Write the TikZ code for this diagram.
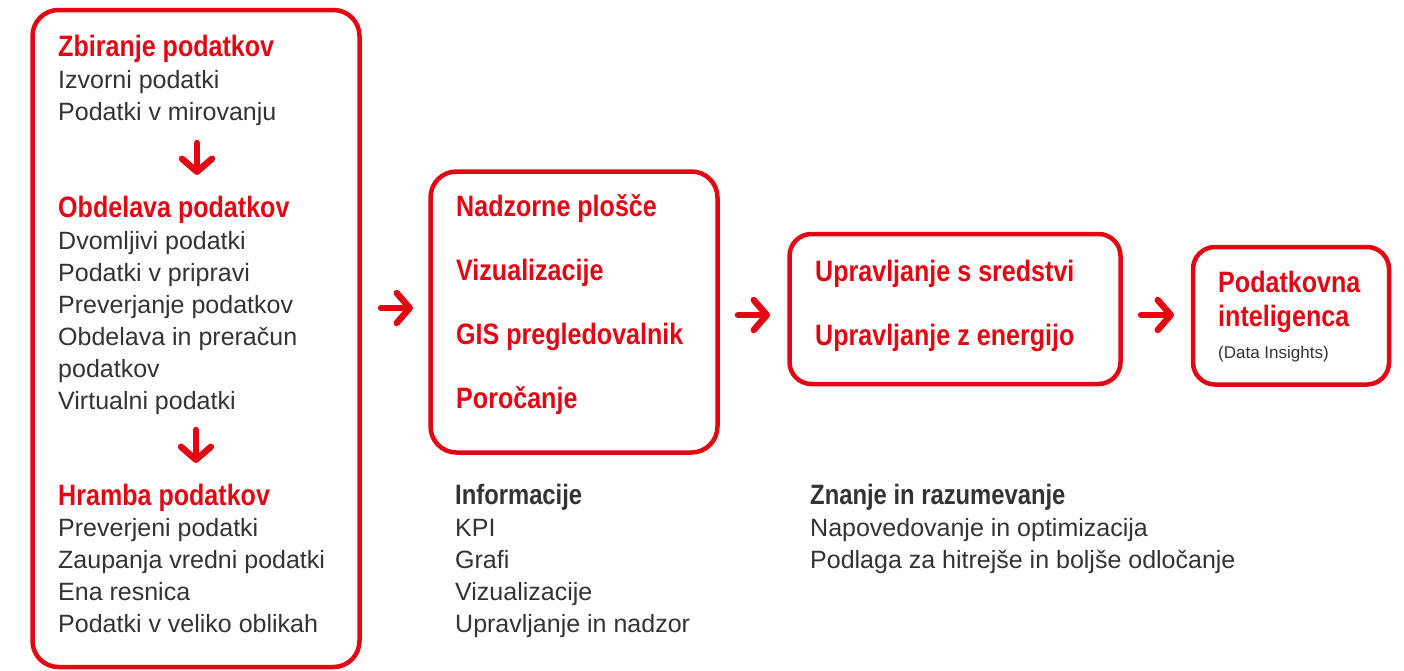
\documentclass[tikz,border=0pt]{standalone}
\usepackage{fontspec}
\setmainfont{Liberation Sans}
\newfontfamily\condfont[FakeStretch=0.85]{Liberation Sans}
\usetikzlibrary{arrows.meta}
\definecolor{brand}{HTML}{E30613}
\definecolor{txt}{HTML}{333333}
\begin{document}
\begin{tikzpicture}[x=1pt,y=-1pt,
 box/.style={draw=brand, line width=4.5pt, rounded corners=26pt, inner sep=0, outer sep=0},
 hd/.style={anchor=base west, inner sep=0, text=brand, font=\condfont\fontsize{29.5}{32}\selectfont\bfseries},
 tx/.style={anchor=base west, inner sep=0, text=txt, font=\fontsize{25}{30}\selectfont},
 sm/.style={anchor=base west, inner sep=0, text=txt, font=\fontsize{17}{20}\selectfont},
 dk/.style={anchor=base west, inner sep=0, text=txt, font=\condfont\fontsize{28}{30}\selectfont\bfseries},
 arr/.style={draw=brand, line width=6.5pt, line cap=round, line join=round,
   -{Straight Barb[length=13pt,width=30pt,line cap=round,line join=round]}}]
\useasboundingbox (0,0) rectangle (1404,670);
% boxes
\node[box, minimum width=327pt, minimum height=657pt] (b1) at (196,338.5) {};
\node[box, minimum width=287pt, minimum height=281pt] (b2) at (574,312) {};
\node[box, minimum width=331pt, minimum height=150pt, rounded corners=22pt] (b3) at (955,309) {};
\node[box, minimum width=196pt, minimum height=137.5pt, rounded corners=22pt] (b4) at (1291,315.75) {};
% box 1 texts
\node[hd] (h1) at (58,56) {Zbiranje podatkov};
\node[tx] (t11) at (58,88) {Izvorni podatki};
\node[tx] (t12) at (58,120) {Podatki v mirovanju};
\node[hd] (h2) at (58,217) {Obdelava podatkov};
\node[tx] (t21) at (58,249) {Dvomljivi podatki};
\node[tx] (t22) at (58,281) {Podatki v pripravi};
\node[tx] (t23) at (58,313) {Preverjanje podatkov};
\node[tx] (t24) at (58,345) {Obdelava in preračun};
\node[tx] (t25) at (58,377) {podatkov};
\node[tx] (t26) at (58,409) {Virtualni podatki};
\node[hd] (h3) at (58,505) {Hramba podatkov};
\node[tx] (t31) at (58,536) {Preverjeni podatki};
\node[tx] (t32) at (58,568) {Zaupanja vredni podatki};
\node[tx] (t33) at (58,600) {Ena resnica};
\node[tx] (t34) at (58,632) {Podatki v veliko oblikah};
% box 2
\node[hd] (n1) at (456,216) {Nadzorne plošče};
\node[hd] (n2) at (456,280) {Vizualizacije};
\node[hd] (n3) at (456,344) {GIS pregledovalnik};
\node[hd] (n4) at (456,408) {Poročanje};
% box 3
\node[hd] (u1) at (815,281) {Upravljanje s sredstvi};
\node[hd] (u2) at (815,345) {Upravljanje z energijo};
% box 4
\node[hd] (p1) at (1218,292) {Podatkovna};
\node[hd] (p2) at (1218,326) {inteligenca};
\node[sm] (p3) at (1218,358) {(Data Insights)};
% bottom notes
\node[dk] (i0) at (455,504) {Informacije};
\node[tx] (i1) at (455,536) {KPI};
\node[tx] (i2) at (455,568) {Grafi};
\node[tx] (i3) at (455,600) {Vizualizacije};
\node[tx] (i4) at (455,632) {Upravljanje in nadzor};
\node[dk] (z0) at (810,504) {Znanje in razumevanje};
\node[tx] (z1) at (810,536) {Napovedovanje in optimizacija};
\node[tx] (z2) at (810,568) {Podlaga za hitrejše in boljše odločanje};
% arrows
\coordinate (d1s) at (197,143);
\coordinate (d1e) at (197,175);
\coordinate (d2s) at (196,430);
\coordinate (d2e) at (196,463);
\coordinate (a1s) at (381,308);
\coordinate (a1e) at (413,308);
\coordinate (a2s) at (738,315);
\coordinate (a2e) at (770,315);
\coordinate (a3s) at (1141,315);
\coordinate (a3e) at (1174,315);
\draw[arr] (d1s) -- (d1e);
\draw[arr] (d2s) -- (d2e);
\draw[arr] (a1s) -- (a1e);
\draw[arr] (a2s) -- (a2e);
\draw[arr] (a3s) -- (a3e);
\end{tikzpicture}
\end{document}
